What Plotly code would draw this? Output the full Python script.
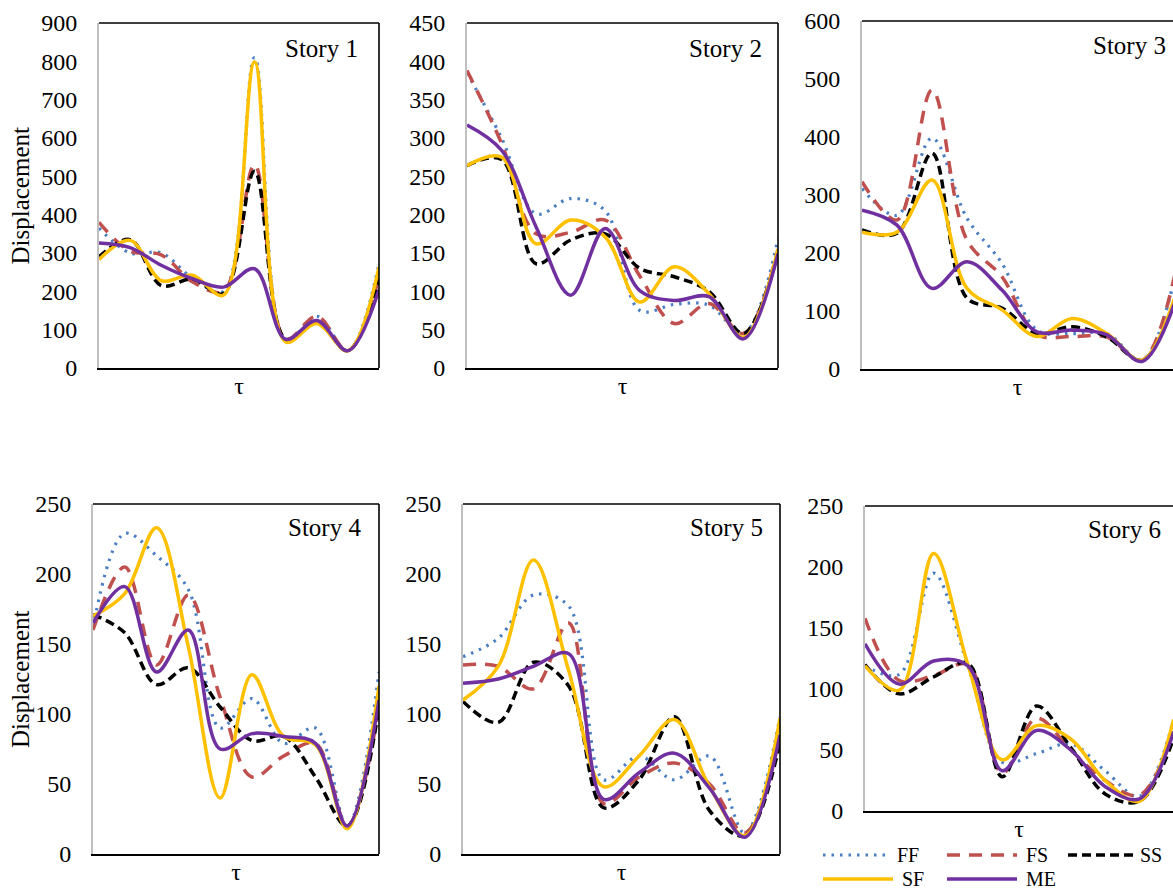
import plotly.graph_objects as go

# ---- data: displacement per story, five cases, ten tau samples ----
tau = list(range(10))
series_names = ["FF", "FS", "SS", "SF", "ME"]

story1_ff = [365, 300, 300, 235, 200, 810, 70, 135, 45, 272]
story1_fs = [380, 305, 295, 225, 200, 530, 75, 135, 45, 237]
story1_ss = [290, 335, 215, 232, 194, 513, 75, 120, 45, 230]
story1_sf = [283, 333, 228, 242, 190, 798, 68, 116, 45, 263]
story1_me = [326, 314, 268, 233, 211, 259, 75, 124, 45, 204]

story2_ff = [385, 300, 201, 221, 205, 75, 83, 82, 45, 169]
story2_fs = [388, 293, 175, 177, 193, 120, 58, 84, 45, 155]
story2_ss = [264, 272, 136, 167, 175, 130, 119, 100, 45, 150]
story2_sf = [264, 275, 162, 193, 171, 86, 132, 97, 40, 155]
story2_me = [317, 284, 184, 95, 182, 101, 88, 93, 38, 149]

story3_ff = [311, 265, 398, 260, 182, 67, 61, 61, 15, 175]
story3_fs = [323, 257, 481, 222, 159, 59, 56, 55, 15, 180]
story3_ss = [240, 234, 372, 122, 105, 61, 73, 55, 15, 130]
story3_sf = [236, 236, 326, 139, 102, 56, 87, 61, 15, 135]
story3_me = [274, 248, 139, 185, 136, 64, 67, 59, 13, 125]

story4_ff = [162, 229, 213, 189, 90, 111, 79, 90, 20, 130]
story4_fs = [160, 205, 135, 185, 112, 55, 70, 79, 20, 105]
story4_ss = [171, 158, 121, 133, 105, 81, 84, 55, 20, 105]
story4_sf = [170, 186, 233, 148, 40, 128, 84, 78, 18, 120]
story4_me = [165, 191, 130, 160, 75, 86, 84, 79, 20, 110]

story5_ff = [141, 154, 185, 177, 53, 70, 53, 70, 15, 98]
story5_fs = [135, 134, 118, 165, 36, 55, 65, 50, 15, 85]
story5_ss = [109, 94, 137, 120, 33, 53, 98, 31, 13, 80]
story5_sf = [110, 134, 210, 131, 48, 70, 96, 48, 13, 97]
story5_me = [122, 125, 134, 143, 39, 58, 72, 47, 12, 85]

story6_ff = [119, 112, 195, 119, 40, 47, 55, 33, 12, 75]
story6_fs = [158, 107, 111, 120, 31, 76, 50, 25, 13, 65]
story6_ss = [120, 96, 110, 121, 28, 86, 52, 14, 8, 60]
story6_sf = [119, 99, 211, 120, 42, 70, 59, 25, 8, 75]
story6_me = [137, 104, 123, 119, 33, 66, 50, 20, 10, 65]

story_titles = ["Story 1", "Story 2", "Story 3", "Story 4", "Story 5", "Story 6"]
y_max = [900, 450, 600, 250, 250, 250]
y_step = [100, 50, 100, 50, 50, 50]

stories = [
    [story1_ff, story1_fs, story1_ss, story1_sf, story1_me],
    [story2_ff, story2_fs, story2_ss, story2_sf, story2_me],
    [story3_ff, story3_fs, story3_ss, story3_sf, story3_me],
    [story4_ff, story4_fs, story4_ss, story4_sf, story4_me],
    [story5_ff, story5_fs, story5_ss, story5_sf, story5_me],
    [story6_ff, story6_fs, story6_ss, story6_sf, story6_me],
]

# ---- styling ----
W, H = 1173, 890
FONT = "Liberation Serif, Times New Roman, serif"
line_styles = {
    "FF": dict(color="#4A7EC2", width=3.2, dash="2.5px,6px"),
    "FS": dict(color="#C0504D", width=3.5, dash="13px,9px"),
    "SS": dict(color="#000000", width=3.5, dash="9px,5px"),
    "SF": dict(color="#FFC000", width=3.5),
    "ME": dict(color="#7030A0", width=3.5),
}

# panel boxes in pixels: left, right, top, bottom, x-range end, right border?
panels = [
    (99, 379, 23, 368, 9.0, True),
    (467, 778, 23, 368, 9.0, True),
    (862, 1173, 21, 369, 8.886, False),
    (93, 379, 504, 854, 9.0, True),
    (463, 780, 504, 854, 9.0, True),
    (865, 1173, 506, 811, 8.98, False),
]
# story label offsets (px from top-right corner of the plot area)
label_shift = [(-19, -10), (-14, -10), (-5, -9), (-16, -8), (-15, -8), (-10, -8)]


def px_x(p):
    return p / W


def px_y(p):
    return 1 - p / H


fig = go.Figure()
shapes = []
annotations = []

for i, (vals, title) in enumerate(zip(stories, story_titles)):
    k = i + 1
    xa = "x" if k == 1 else f"x{k}"
    ya = "y" if k == 1 else f"y{k}"
    for name, v in zip(series_names, vals):
        fig.add_trace(go.Scatter(
            x=tau, y=v, mode="lines", name=name,
            line=dict(shape="spline", smoothing=1.0, **line_styles[name]),
            xaxis=xa, yaxis=ya, showlegend=False, hoverinfo="skip",
        ))
    left, right, top, bottom, xend, rborder = panels[i]
    xkey = "xaxis" if k == 1 else f"xaxis{k}"
    ykey = "yaxis" if k == 1 else f"yaxis{k}"
    fig.layout[xkey] = dict(
        domain=[px_x(left), px_x(right)], anchor=ya, range=[0, xend],
        automargin=False,
        showticklabels=False, showgrid=False, zeroline=False, ticks="",
        showline=True, linecolor="#000000", linewidth=2,
        title=dict(text="τ", font=dict(family=FONT, size=24, color="#000"), standoff=8),
    )
    fig.layout[ykey] = dict(
        domain=[px_y(bottom), px_y(top)], anchor=xa, range=[0, y_max[i]],
        automargin=False,
        dtick=y_step[i], tick0=0, showgrid=False, zeroline=False,
        showline=True, linecolor="#BFBFBF", linewidth=2,
        ticks="outside", ticklen=15, tickcolor="rgba(0,0,0,0)",
        tickfont=dict(family=FONT, size=24, color="#000"),
    )
    # top border, and right border where the plot area is not cut by the page edge
    shapes.append(dict(type="line", xref=f"{xa} domain", yref=f"{ya} domain",
                       x0=0, x1=1, y0=1, y1=1, layer="above",
                       line=dict(color="#000000", width=1.6)))
    if rborder:
        shapes.append(dict(type="line", xref=f"{xa} domain", yref=f"{ya} domain",
                           x0=1, x1=1, y0=0, y1=1, layer="above",
                           line=dict(color="#000000", width=1.6)))
    dx, dy = label_shift[i]
    annotations.append(dict(
        text=title, xref=f"{xa} domain", yref=f"{ya} domain", x=1, y=1,
        xanchor="right", yanchor="top", xshift=dx, yshift=dy, showarrow=False,
        font=dict(family=FONT, size=25, color="#000"),
    ))

# y-axis titles for the left column
for cy in [(23 + 368) / 2, (504 + 854) / 2]:
    annotations.append(dict(
        text="Displacement", xref="paper", yref="paper", x=px_x(20), y=px_y(cy),
        xanchor="center", yanchor="middle", textangle=-90, showarrow=False,
        font=dict(family=FONT, size=25, color="#000"),
    ))

# legend drawn below the sixth panel
legend_slots = {
    "FF": (823, 888, 855), "FS": (947, 1017, 855), "SS": (1068, 1136, 855),
    "SF": (823, 893, 879), "ME": (947, 1017, 879),
}
for name in series_names:
    x0, x1, yy = legend_slots[name]
    st = line_styles[name]
    shapes.append(dict(type="line", xref="paper", yref="paper",
                       x0=px_x(x0), x1=px_x(x1), y0=px_y(yy), y1=px_y(yy),
                       line=dict(color=st["color"], width=st["width"], dash=st.get("dash", "solid"))))
    annotations.append(dict(
        text=name, xref="paper", yref="paper", x=px_x(x1 + 8 if name != "SS" else x1 + 3),
        y=px_y(yy), xanchor="left", yanchor="middle", showarrow=False, borderpad=0,
        font=dict(family=FONT, size=20, color="#000"),
    ))

fig.update_layout(
    width=W, height=H, margin=dict(l=0, r=0, t=0, b=0, autoexpand=False),
    paper_bgcolor="#FFFFFF", plot_bgcolor="#FFFFFF",
    shapes=shapes, annotations=annotations, showlegend=False,
    font=dict(family=FONT, color="#000"),
)

fig.write_html("out.html")
